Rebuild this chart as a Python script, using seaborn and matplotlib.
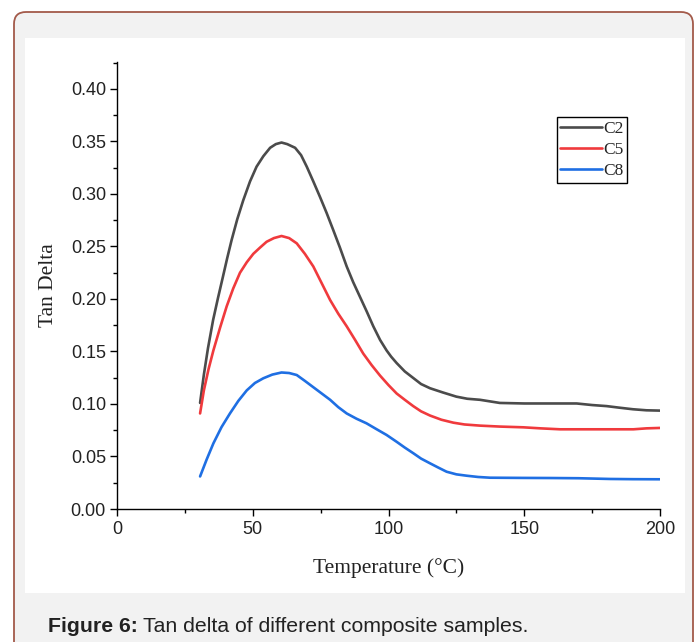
import numpy as np
import pandas as pd
import matplotlib
matplotlib.use("Agg")
import matplotlib.pyplot as plt
from matplotlib.patches import FancyBboxPatch, Rectangle
from matplotlib.ticker import MultipleLocator
from matplotlib.lines import Line2D
import seaborn as sns

# ---- data ----
samples = ["C2", "C5", "C8"]
temp_c2 = [30.6, 32.0, 33.5, 35.4, 37.2, 39.0, 40.6, 42.2, 44.3, 46.5, 49.0, 51.4, 53.9, 56.4, 58.5,
           60.6, 62.7, 65.6, 67.8, 69.9, 72.3, 74.8, 77.2, 79.6, 82.1, 84.6, 87.0, 89.5, 92.0, 94.4,
           96.9, 99.3, 101.0, 103.0, 106.0, 109.0, 112.0, 115.3, 120.0, 125.0, 129.0, 133.7, 141.0,
           150.0, 160.0, 169.3, 175.0, 180.3, 185.0, 190.0, 195.0, 200.0]
tan_c2 = [0.101, 0.128, 0.153, 0.180, 0.201, 0.221, 0.239, 0.256, 0.276, 0.294, 0.312, 0.326, 0.336,
          0.344, 0.3475, 0.349, 0.3475, 0.344, 0.337, 0.326, 0.312, 0.297, 0.282, 0.266, 0.249, 0.231,
          0.216, 0.202, 0.188, 0.174, 0.161, 0.151, 0.145, 0.139, 0.131, 0.125, 0.119, 0.115, 0.111,
          0.107, 0.105, 0.104, 0.101, 0.1005, 0.1005, 0.1005, 0.099, 0.098, 0.0965, 0.095, 0.094, 0.0937]
temp_c5 = [30.6, 32.0, 33.7, 35.5, 38.0, 40.4, 42.8, 45.3, 47.8, 50.2, 52.7, 55.1, 57.8, 60.6, 63.4,
           66.2, 69.2, 72.3, 75.4, 78.5, 81.5, 84.6, 87.7, 90.7, 93.8, 96.9, 100.0, 103.0, 106.0,
           109.1, 112.0, 115.3, 119.5, 123.9, 128.0, 133.7, 141.0, 149.6, 156.0, 163.2, 178.0,
           190.2, 195.0, 200.0]
tan_c5 = [0.091, 0.113, 0.133, 0.151, 0.173, 0.193, 0.210, 0.225, 0.235, 0.243, 0.249, 0.2545, 0.258,
          0.260, 0.258, 0.253, 0.243, 0.231, 0.215, 0.199, 0.186, 0.174, 0.161, 0.148, 0.137, 0.127,
          0.118, 0.110, 0.104, 0.098, 0.093, 0.089, 0.085, 0.0822, 0.0805, 0.0794, 0.0785, 0.0778,
          0.0768, 0.0759, 0.0759, 0.0759, 0.0768, 0.0772]
temp_c8 = [30.6, 33.0, 35.5, 38.5, 41.6, 44.7, 47.8, 50.8, 53.9, 57.2, 60.6, 63.4, 66.2, 69.2, 72.3,
           75.4, 78.5, 81.5, 84.6, 88.2, 91.9, 95.6, 99.3, 103.0, 106.0, 109.2, 112.0, 115.3, 118.3,
           121.4, 125.0, 128.8, 133.0, 137.4, 150.0, 160.0, 170.0, 181.6, 190.0, 200.0]
tan_c8 = [0.031, 0.047, 0.0625, 0.078, 0.091, 0.103, 0.113, 0.120, 0.1245, 0.128, 0.130, 0.1295,
          0.1276, 0.122, 0.116, 0.110, 0.104, 0.097, 0.091, 0.086, 0.0816, 0.076, 0.0705, 0.064,
          0.0585, 0.053, 0.048, 0.0435, 0.0395, 0.0355, 0.033, 0.0317, 0.0305, 0.0298, 0.0296,
          0.0295, 0.0293, 0.0286, 0.0284, 0.0283]
colors = ["#4b4b4b", "#f03a3d", "#1f6fe3"]

df = pd.concat([
    pd.DataFrame({"Temperature": temp_c2, "Tan Delta": tan_c2, "Sample": "C2"}),
    pd.DataFrame({"Temperature": temp_c5, "Tan Delta": tan_c5, "Sample": "C5"}),
    pd.DataFrame({"Temperature": temp_c8, "Tan Delta": tan_c8, "Sample": "C8"}),
], ignore_index=True)

sns.set_style("white")
plt.rcParams["font.family"] = ["Liberation Sans", "DejaVu Sans"]

W, H = 695, 642
fig = plt.figure(figsize=(W / 100, H / 100), dpi=100)
fig.patch.set_facecolor("white")

def px_rect(x0, y0, x1, y1):
    # pixel coords (top-left origin) -> figure fraction
    return x0 / W, 1 - y1 / H, (x1 - x0) / W, (y1 - y0) / H

# outer rounded frame
frame = FancyBboxPatch((14, H - 660), 693 - 14, 660 - 12,
                       boxstyle="round,pad=0,rounding_size=12",
                       transform=None, facecolor="#f2f2f2", edgecolor="#a35a4a",
                       linewidth=1.3, zorder=-3)
fig.patches.append(frame)
x, y, w, h = px_rect(25, 38, 685, 593)
fig.patches.append(Rectangle((x, y), w, h, transform=fig.transFigure,
                             facecolor="white", edgecolor="none", zorder=-2))

ax = fig.add_axes(px_rect(117, 62, 660, 509))
ax.set_facecolor("none")
sns.lineplot(data=df, x="Temperature", y="Tan Delta", hue="Sample",
             palette=dict(zip(samples, colors)), linewidth=1.9, ax=ax,
             legend=False, estimator=None, sort=True)

ax.set_xlim(0, 200)
ax.set_ylim(0, 0.4257)
ax.xaxis.set_major_locator(MultipleLocator(50))
ax.xaxis.set_minor_locator(MultipleLocator(25))
ax.yaxis.set_major_locator(MultipleLocator(0.05))
ax.yaxis.set_minor_locator(MultipleLocator(0.025))
ax.yaxis.set_major_formatter(matplotlib.ticker.FormatStrFormatter("%.2f"))
for s in ["top", "right"]:
    ax.spines[s].set_visible(False)
for s in ["left", "bottom"]:
    ax.spines[s].set_color("black")
    ax.spines[s].set_linewidth(1.0)
ax.tick_params(which="major", direction="out", length=5, width=1.0, color="black",
               labelsize=13, labelcolor="#222222", left=True, bottom=True)
ax.tick_params(which="minor", direction="out", length=3, width=1.0, color="black",
               left=True, bottom=True)
ax.tick_params(axis="y", pad=3)
ax.tick_params(axis="x", pad=4)

serif = ["Liberation Serif", "DejaVu Serif"]
ax.set_xlabel("Temperature (°C)", family=serif, fontsize=15.5, color="#222222", labelpad=14)
ax.set_ylabel("Tan Delta", family=serif, fontsize=15.5, color="#222222", labelpad=9)

handles = [Line2D([], [], color=c, linewidth=1.9) for c in colors]
leg = ax.legend(handles, samples, loc="upper left",
                bbox_to_anchor=((557 - 117) / 543, 1 - (117 - 62) / 447),
                frameon=True, fancybox=False, edgecolor="black", framealpha=1,
                prop={"family": serif, "size": 12.5}, handlelength=2.4, handletextpad=0.05,
                labelspacing=0.3, borderpad=0.2, borderaxespad=0)
leg.get_frame().set_linewidth(1.0)

# caption
t1 = fig.text(48 / W, 1 - 627 / H, "Figure 6:", fontsize=15.3, fontweight="bold",
              color="#222222", va="center", ha="left")
fig.canvas.draw()
bb = t1.get_window_extent()
fig.text(bb.x1 / W + 5 / W, 1 - 627 / H, "Tan delta of different composite samples.",
         fontsize=15.3, color="#222222", va="center", ha="left")

fig.savefig("out.png", dpi=100)
